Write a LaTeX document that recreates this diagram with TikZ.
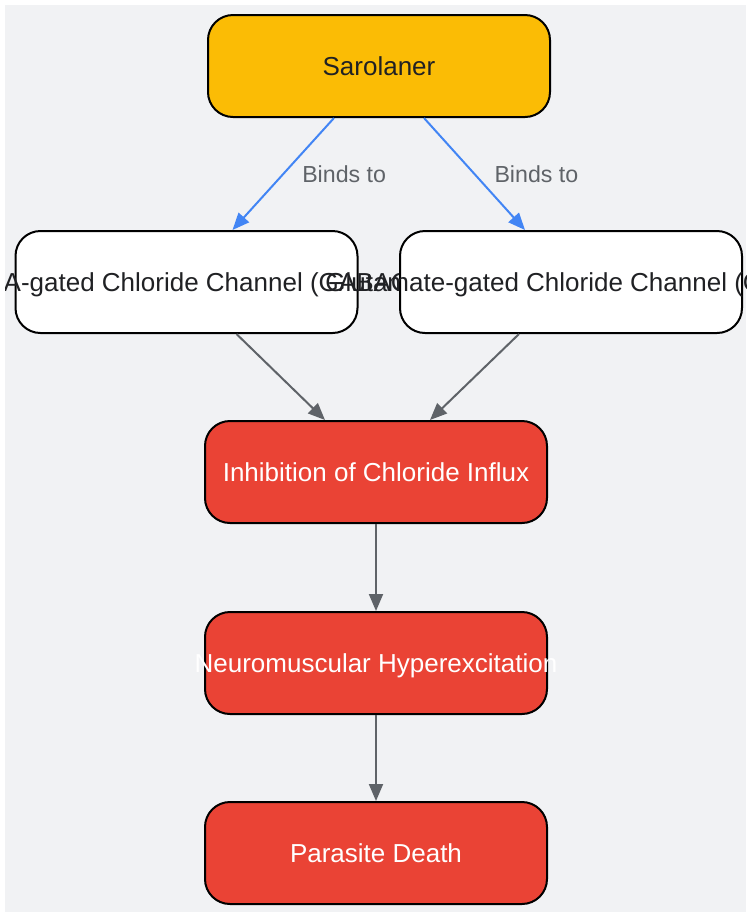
\documentclass[tikz,border=0pt]{standalone}
\usepackage{fontspec}
\setmainfont{Liberation Sans}
\usetikzlibrary{arrows.meta}
\definecolor{bgGray}{HTML}{F1F2F4}
\definecolor{drugYellow}{HTML}{FBBC05}
\definecolor{effectRed}{HTML}{EA4335}
\definecolor{bindBlue}{HTML}{4285F4}
\definecolor{linkGray}{HTML}{5F6368}
\definecolor{textDark}{HTML}{202124}
% text that spills past its box
\newcommand{\spill}[1]{\makebox[0pt]{#1}}
\begin{document}
\begin{tikzpicture}[x=0.5pt, y=-0.5pt,
    box/.style={draw=black, line width=1pt, rounded corners=12.5pt, minimum width=171pt, minimum height=51pt, inner sep=0pt, text height=9.5pt, text depth=0pt, font=\fontsize{13}{15}\selectfont, text=textDark, fill=white},
    effect/.style={box, fill=effectRed, text=white},
    binds/.style={draw=bindBlue, line width=1pt, -{Triangle[length=8.5pt,width=7pt]}},
    leads/.style={draw=linkGray, line width=1pt, -{Triangle[length=8.5pt,width=7pt]}},
    edgetext/.style={font=\fontsize{11.6}{14}\selectfont, text=linkGray, anchor=west, inner sep=0pt}]
    \useasboundingbox (0,0) rectangle (746,912);
    \fill[bgGray] (5,5) rectangle (746,912);
    \begin{scope}
        \clip (5,5) rectangle (746,912);
        \node [box, fill=drugYellow] (Sarolaner) at (379,66) {Sarolaner};
        \node [box] (GABA) at (186.5,282) {\spill{GABA-gated Chloride Channel (GABACl)}};
        \node [box] (GluCl) at (571,282) {\spill{Glutamate-gated Chloride Channel (GluCl)}};
        \node [effect] (Inhibition) at (376,472) {Inhibition of Chloride Influx};
        \node [effect] (Hyperexcitation) at (376,663) {\spill{Neuromuscular Hyperexcitation}};
        \node [effect] (Death) at (376,853) {Parasite Death};
        \path[binds] ([xshift=-22.5pt]Sarolaner.south) -- node[edgetext, xshift=9pt] {Binds to} ([xshift=23pt]GABA.north);
        \path[binds] ([xshift=22.5pt]Sarolaner.south) -- node[edgetext, xshift=9.5pt] {Binds to} ([xshift=-23pt]GluCl.north);
        \path[leads] ([xshift=25pt]GABA.south) -- ([xshift=-25.5pt]Inhibition.north);
        \path[leads] ([xshift=-26pt]GluCl.south) -- ([xshift=27pt]Inhibition.north);
        \path[leads] (Inhibition) -- (Hyperexcitation);
        \path[leads] (Hyperexcitation) -- (Death);
    \end{scope}
\end{tikzpicture}
\end{document}
